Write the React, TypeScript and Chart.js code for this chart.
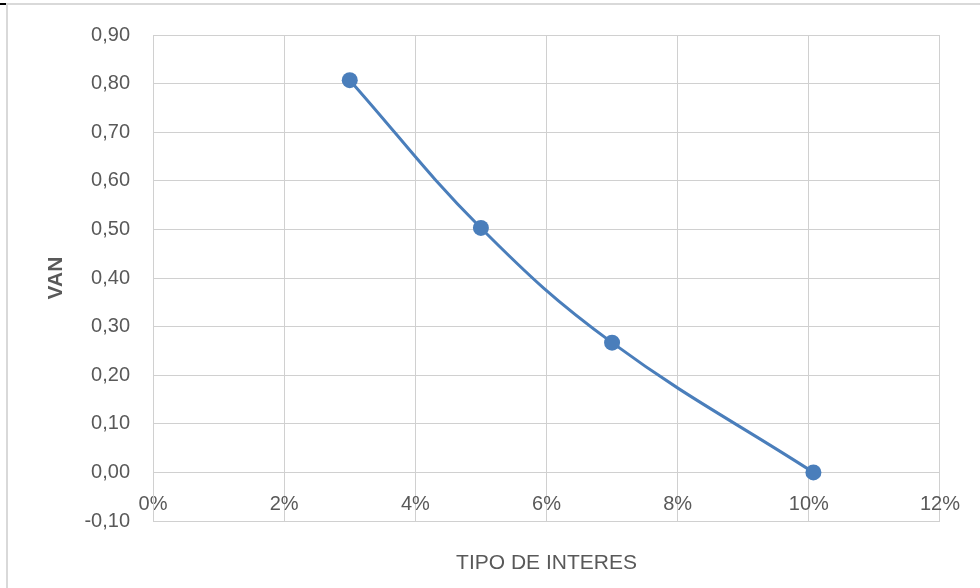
import React, { useEffect, useRef } from "react";
import { Chart, registerables } from "chart.js";

Chart.register(...registerables);

// Data
const rates = [0.03, 0.05, 0.07, 0.1007];
const vanValues = [0.807, 0.503, 0.267, 0.0];
const xTicksLabel = (v: number) => Math.round(v * 100) + "%";
const yTicksLabel = (v: number) => v.toFixed(2).replace(".", ",");
const xTitle = "TIPO DE INTERES";
const yTitle = "VAN";

const BLUE = "#4A7EBB";
const GRID = "#d0d0d0";
const TEXT = "#595959";
const FONT = "'Liberation Sans', Arial, sans-serif";

export default function App() {
  const ref = useRef<HTMLCanvasElement | null>(null);

  useEffect(() => {
    if (!ref.current) return;
    const chart = new Chart(ref.current, {
      type: "scatter",
      data: {
        datasets: [
          {
            label: yTitle,
            data: rates.map((r, i) => ({ x: r, y: vanValues[i] })),
            showLine: true,
            borderColor: BLUE,
            backgroundColor: BLUE,
            borderWidth: 3,
            pointRadius: 8,
            pointBorderWidth: 0,
            pointBackgroundColor: BLUE,
            tension: 0.4,
          },
        ],
      },
      options: {
        responsive: false,
        animation: false,
        layout: { padding: { left: 0, top: 29, right: 39, bottom: 67 } },
        plugins: {
          legend: { display: false },
          tooltip: { enabled: false },
        },
        scales: {
          x: {
            type: "linear",
            position: { y: 0 } as any,
            min: 0,
            max: 0.12,
            grid: { color: GRID, lineWidth: 1, drawTicks: false },
            border: { color: GRID, width: 1 },
            ticks: {
              stepSize: 0.02,
              padding: 20,
              color: TEXT,
              font: { family: FONT, size: 20 },
              callback: (v: any) => xTicksLabel(Number(v)),
            },
            title: {
              display: true,
              text: xTitle,
              color: TEXT,
              font: { family: FONT, size: 21 },
              padding: { top: 14, bottom: 0 },
            },
          },
          y: {
            type: "linear",
            position: "left",
            min: -0.1,
            max: 0.9,
            afterFit: (scale: any) => {
              scale.width = 153;
            },
            grid: { color: GRID, lineWidth: 1, drawTicks: false },
            border: { color: GRID, width: 1 },
            ticks: {
              stepSize: 0.1,
              padding: 23,
              color: TEXT,
              font: { family: FONT, size: 20 },
              callback: (v: any) => yTicksLabel(Number(v)),
            },
            title: {
              display: true,
              text: yTitle,
              color: TEXT,
              font: { family: FONT, size: 21, weight: "bold" },
              padding: { top: 44, bottom: 0 },
            },
          },
        },
      },
    });
    return () => chart.destroy();
  }, []);

  return (
    <div
      style={{
        position: "fixed",
        left: 0,
        top: 0,
        width: 980,
        height: 588,
        background: "#fff",
        overflow: "hidden",
      }}
    >
      <div
        style={{
          position: "absolute",
          left: 0,
          top: 3,
          width: 6,
          height: 2,
          background: "#000",
        }}
      />
      <div
        style={{
          position: "absolute",
          left: 6,
          top: 3,
          right: 0,
          bottom: 0,
          borderTop: "2px solid #d9d9d9",
          borderLeft: "2px solid #d9d9d9",
        }}
      />
      <canvas
        ref={ref}
        width={980}
        height={588}
        style={{ position: "absolute", left: 0, top: 0, width: 980, height: 588 }}
      />
    </div>
  );
}
